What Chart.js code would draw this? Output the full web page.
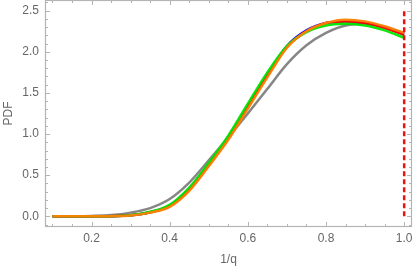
<!DOCTYPE html>
<html>
<head>
<meta charset="utf-8">
<script src="https://cdn.jsdelivr.net/npm/chart.js@4"></script>
<style>
  html, body { margin: 0; padding: 0; background: #fff; }
  #wrap { width: 415px; height: 270px; }
</style>
</head>
<body>
<div id="wrap"><canvas id="pdfChart" width="415" height="270"></canvas></div>
<script>
const xs = [0.10, 0.15, 0.20, 0.25, 0.30, 0.35, 0.40, 0.45, 0.50, 0.55, 0.60, 0.65, 0.70, 0.75, 0.80, 0.85, 0.90, 0.95, 1.00];
const pdfGray   = [0, 0.001, 0.005, 0.015, 0.045, 0.10, 0.21, 0.41, 0.68, 0.96, 1.25, 1.55, 1.85, 2.08, 2.23, 2.32, 2.34, 2.30, 2.20];
const pdfBlue   = [0, 0, 0.001, 0.002, 0.012, 0.05, 0.13, 0.33, 0.63, 0.96, 1.34, 1.72, 2.07, 2.26, 2.35, 2.37, 2.35, 2.30, 2.22];
const pdfRed    = [0, 0, 0.001, 0.002, 0.012, 0.05, 0.125, 0.32, 0.62, 0.95, 1.33, 1.71, 2.06, 2.25, 2.35, 2.37, 2.35, 2.29, 2.21];
const pdfGreen  = [0, 0, 0.001, 0.002, 0.013, 0.055, 0.14, 0.35, 0.65, 0.98, 1.37, 1.75, 2.07, 2.24, 2.32, 2.34, 2.32, 2.26, 2.17];
const pdfOrange = [0, 0, 0.001, 0.002, 0.010, 0.045, 0.115, 0.31, 0.61, 0.93, 1.31, 1.69, 2.05, 2.25, 2.35, 2.39, 2.37, 2.31, 2.23];
const cutX = [1.0, 1.0];
const cutY = [0, 2.5];

const xMajor = [0.2, 0.4, 0.6, 0.8, 1.0];
const xMinor = [0.1, 0.15, 0.25, 0.3, 0.35, 0.45, 0.5, 0.55, 0.65, 0.7, 0.75, 0.85, 0.9, 0.95];
const yMajor = [0, 0.5, 1.0, 1.5, 2.0, 2.5];
const yMinor = [-0.1, 0.1, 0.2, 0.3, 0.4, 0.6, 0.7, 0.8, 0.9, 1.1, 1.2, 1.3, 1.4, 1.6, 1.7, 1.8, 1.9, 2.1, 2.2, 2.3, 2.4, 2.6];

const pts = (xv, yv) => xv.map((x, i) => ({ x: x, y: yv[i] }));
const curve = (label, ys, color) => ({
    label: label,
    data: pts(xs, ys),
    borderColor: color,
    borderWidth: 2.5,
    pointRadius: 0,
    cubicInterpolationMode: 'monotone',
    fill: false
});

// frame with inward ticks, like the original
const frameTicks = {
    id: 'frameTicks',
    afterDatasetsDraw(chart) {
        const { ctx, chartArea: a, scales } = chart;
        const x = scales.x, y = scales.y;
        ctx.save();
        ctx.strokeStyle = '#b4b4b4';
        ctx.lineWidth = 1;
        const tick = (len, list, isX) => {
            list.forEach(v => {
                ctx.beginPath();
                if (isX) {
                    const p = Math.round(x.getPixelForValue(v)) + 0.5;
                    ctx.moveTo(p, a.bottom); ctx.lineTo(p, a.bottom - len);
                    ctx.moveTo(p, a.top); ctx.lineTo(p, a.top + len);
                } else {
                    const p = Math.round(y.getPixelForValue(v)) + 0.5;
                    ctx.moveTo(a.left, p); ctx.lineTo(a.left + len, p);
                    ctx.moveTo(a.right, p); ctx.lineTo(a.right - len, p);
                }
                ctx.stroke();
            });
        };
        tick(5, xMajor, true);
        tick(3, xMinor, true);
        tick(5, yMajor, false);
        tick(3, yMinor, false);
        ctx.lineWidth = 1.2;
        ctx.strokeRect(a.left + 0.5, a.top + 0.5, a.right - a.left - 1, a.bottom - a.top - 1);
        ctx.restore();
    }
};

new Chart(document.getElementById('pdfChart').getContext('2d'), {
    type: 'line',
    data: {
        datasets: [
            {
                label: 'cut',
                data: pts(cutX, cutY),
                borderColor: '#ee1111',
                borderWidth: 2.5,
                borderDash: [5, 3],
                pointRadius: 0
            },
            curve('orange', pdfOrange, 'rgba(255,128,0,0.95)'),
            curve('green', pdfGreen, 'rgba(0,230,0,0.95)'),
            curve('red', pdfRed, 'rgba(255,0,0,0.95)'),
            curve('blue', pdfBlue, 'rgba(0,0,255,0.95)'),
            curve('gray', pdfGray, 'rgba(128,128,128,0.95)')
        ]
    },
    options: {
        responsive: false,
        animation: false,
        layout: { padding: { top: 0, right: 3, left: 0, bottom: 0 } },
        plugins: { legend: { display: false }, tooltip: { enabled: false } },
        scales: {
            x: {
                type: 'linear',
                min: 0.081,
                max: 1.02,
                afterBuildTicks: s => { s.ticks = xMajor.map(v => ({ value: v })); },
                afterFit: s => { s.height = 43; s.paddingLeft = 0; s.paddingRight = 0; },
                grid: { display: false, drawTicks: false },
                border: { display: false },
                ticks: {
                    color: '#666',
                    font: { family: 'Liberation Sans', size: 12 },
                    padding: 4,
                    maxRotation: 0,
                    callback: v => v.toFixed(1)
                },
                title: {
                    display: true,
                    text: '1/q',
                    color: '#666',
                    font: { family: 'Liberation Sans', size: 12 },
                    padding: { top: 6, bottom: 3 }
                }
            },
            y: {
                min: -0.13,
                max: 2.63,
                afterBuildTicks: s => { s.ticks = yMajor.map(v => ({ value: v })); },
                afterFit: s => { s.width = 45; s.paddingTop = 0; s.paddingBottom = 0; },
                grid: { display: false, drawTicks: false },
                border: { display: false },
                ticks: {
                    color: '#666',
                    font: { family: 'Liberation Sans', size: 12 },
                    padding: 6,
                    callback: v => v.toFixed(1)
                },
                title: {
                    display: true,
                    text: 'PDF',
                    color: '#666',
                    font: { family: 'Liberation Sans', size: 12 },
                    padding: { top: 1, bottom: 0 }
                }
            }
        }
    },
    plugins: [frameTicks]
});
</script>
</body>
</html>
